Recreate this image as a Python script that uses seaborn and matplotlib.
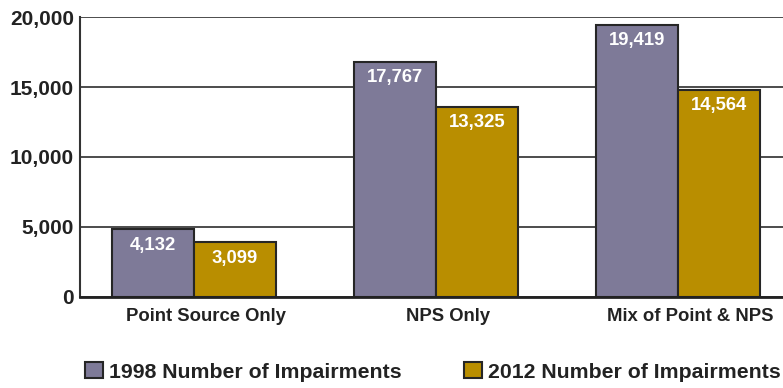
import matplotlib
matplotlib.use("Agg")
import matplotlib.pyplot as plt
import matplotlib.transforms as mtransforms
from matplotlib.patches import Patch
import seaborn as sns
import pandas as pd

# ---- data -------------------------------------------------------------
categories = ["Point Source Only", "NPS Only", "Mix of Point & NPS"]
series_names = ["1998 Number of Impairments", "2012 Number of Impairments"]
# bar heights as drawn in the reference picture
bars_1998 = [4814, 16819, 19470]
bars_2012 = [3883, 13596, 14792]
# value labels printed on the bars
labels_1998 = ["4,132", "17,767", "19,419"]
labels_2012 = ["3,099", "13,325", "14,564"]
y_ticks = [0, 5000, 10000, 15000, 20000]
y_tick_labels = ["0", "5,000", "10,000", "15,000", "20,000"]

purple = "#7e7a98"
gold = "#b98e00"
edge = "#262626"
text_c = "#222222"

df = pd.DataFrame({
    "category": categories * 2,
    "value": bars_1998 + bars_2012,
    "series": [series_names[0]] * 3 + [series_names[1]] * 3,
})

sns.set_theme(style="white")
plt.rcParams["font.family"] = ["Liberation Sans", "DejaVu Sans"]
plt.rcParams["font.weight"] = "bold"

fig = plt.figure(figsize=(7.83, 3.88), dpi=100)
ax = fig.add_axes([0.10217, 0.2358, 0.89783, 0.7196])

sns.barplot(data=df, x="category", y="value", hue="series", order=categories,
            hue_order=series_names, palette=[purple, gold], saturation=1,
            width=0.678, edgecolor=edge, linewidth=1.5, ax=ax, legend=False)

ax.set_xlim(-0.4707, 2.4335)
ax.set_ylim(0, 20000)
ax.set_axisbelow(True)
ax.yaxis.grid(True, color="#2e2e2e", linewidth=1.2)
ax.xaxis.grid(False)

for s in ["top", "right"]:
    ax.spines[s].set_visible(False)
ax.spines["left"].set_color("#333333")
ax.spines["left"].set_linewidth(1.5)
ax.spines["bottom"].set_color("#222222")
ax.spines["bottom"].set_linewidth(2.0)

ax.set_yticks(y_ticks)
ax.set_yticklabels(y_tick_labels, fontsize=15, fontweight="bold", color=text_c)
ax.set_xticks(range(len(categories)))
ax.set_xticklabels(categories, fontsize=13.3, fontweight="bold", color=text_c)
ax.tick_params(axis="y", length=0, pad=4.3)
ax.tick_params(axis="x", length=0, pad=8)
offset = mtransforms.ScaledTranslation(0.12, 0, fig.dpi_scale_trans)
for lab in ax.get_xticklabels():
    lab.set_transform(lab.get_transform() + offset)
ax.set_xlabel("")
ax.set_ylabel("")

for cont, labs in zip(ax.containers, [labels_1998, labels_2012]):
    for p, t in zip(cont.patches, labs):
        ax.annotate(t, (p.get_x() + p.get_width() / 2, p.get_height()),
                    xytext=(0, -11.4), textcoords="offset points",
                    ha="center", va="center", color="white",
                    fontsize=13.3, fontweight="bold")

handles = [Patch(facecolor=purple, edgecolor=edge, linewidth=1.5),
           Patch(facecolor=gold, edgecolor=edge, linewidth=1.5)]
fig.legend(handles, series_names, ncol=2, loc="center",
           bbox_to_anchor=(0.553, 0.041), frameon=False,
           prop={"size": 15.3, "weight": "bold"}, labelcolor=text_c,
           handlelength=0.85, handleheight=0.75, handletextpad=0.3,
           columnspacing=2.9, borderpad=0, borderaxespad=0)

fig.savefig("out.png", dpi=100)
